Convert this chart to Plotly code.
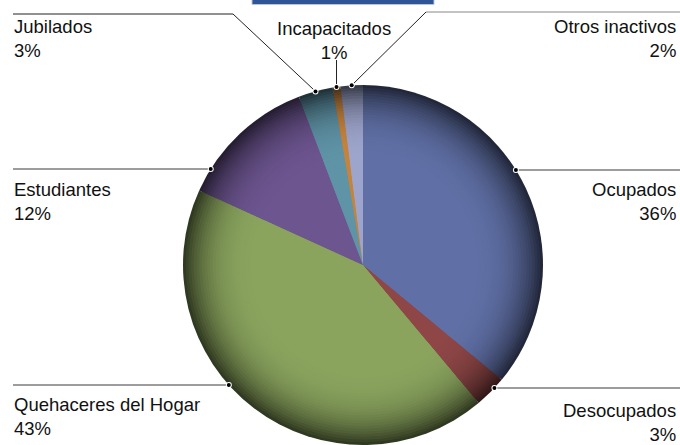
import numpy as np
import plotly.graph_objects as go

# ---------------- data ----------------
categories = ["Ocupados", "Desocupados", "Quehaceres del Hogar", "Estudiantes",
              "Jubilados", "Incapacitados", "Otros inactivos"]
values = [36.0, 2.9, 42.9, 12.4, 3.1, 0.7, 2.0]
pct_labels = ["36%", "3%", "43%", "12%", "3%", "1%", "2%"]
center_colors = ["#6070a6", "#8e4646", "#8aa45e", "#6d5590", "#5f93a6", "#c5843e", "#9ea5cc"]

# ---------------- layout constants ----------------
W, H = 680, 445
CX, CY, R = 363, 265, 180          # pie centre / radius in pixels (y from top)
FONT = "Liberation Sans, Arial, sans-serif"

def hex2rgb(h):
    h = h.lstrip("#")
    return np.array([int(h[i:i + 2], 16) for i in (0, 2, 4)], dtype=float)

def mix(c, t):
    base = hex2rgb(c)
    dark = base * 0.35
    v = base * (1 - t) + dark * t
    return "rgb(%d,%d,%d)" % tuple(np.clip(v, 0, 255).round())

def px(x):
    return x / W

def py(y):
    return 1 - y / H

fig = go.Figure()

# gradient: stacked pies from rim (dark) to inner (light)
N = 30
rmin = 0.55
for k in range(N + 1):
    frac = 1 - k * (1 - rmin) / N
    r = R * frac
    t = ((frac - rmin) / (1 - rmin)) ** 3.0
    cols = [mix(c, t) for c in center_colors]
    fig.add_trace(go.Pie(
        labels=categories, values=values, sort=False, direction="clockwise",
        rotation=0, textinfo="none", hoverinfo="label+percent",
        marker=dict(colors=cols, line=dict(width=0)),
        domain=dict(x=[px(CX - r), px(CX + r)], y=[py(CY + r), py(CY - r)]),
        showlegend=False,
    ))

# slice mid angles (clockwise from 12 o'clock), computed from data
vals = np.array(values)
cum = np.cumsum(vals) / vals.sum()
start = np.concatenate([[0], cum[:-1]])
mid = (start + cum) / 2 * 2 * np.pi

def rim_at_angle(a):
    return CX + R * np.sin(a), CY - R * np.cos(a)

def rim_at_y(y, side):
    dx = np.sqrt(max(R ** 2 - (y - CY) ** 2, 0))
    return CX + side * dx, y

# label placement (pixels): text anchor x, y-mid, align, leader path
labels_layout = {
    "Ocupados":             dict(x=678, y=202, align="right", line_y=170, side=1),
    "Desocupados":          dict(x=678, y=422, align="right", line_y=388, side=1),
    "Quehaceres del Hogar": dict(x=12, y=416, align="left", line_y=385, side=-1),
    "Estudiantes":          dict(x=12, y=201, align="left", line_y=169, side=-1),
    "Jubilados":            dict(x=12, y=38, align="left"),
    "Incapacitados":        dict(x=334, y=41, align="center"),
    "Otros inactivos":      dict(x=678, y=38, align="right"),
}

shapes = []

def seg(x0, y0, x1, y1, color="#3a3a3a"):
    shapes.append(dict(type="line", xref="paper", yref="paper",
                       x0=px(x0), y0=py(y0), x1=px(x1), y1=py(y1),
                       line=dict(color=color, width=1), layer="above"))

anchors = []
for i, cat in enumerate(categories):
    L = labels_layout[cat]
    if "line_y" in L:
        ax, ay = rim_at_y(L["line_y"], L["side"])
        end_x = W if L["side"] > 0 else 13
        seg(ax, ay, end_x, ay)
    else:
        ax, ay = rim_at_angle(mid[i])
        if cat == "Jubilados":
            seg(13, 14, 233, 14, "#222222")
            seg(233, 14, ax, ay, "#222222")
        elif cat == "Incapacitados":
            seg(ax, 60, ax, ay, "#222222")
        else:
            seg(ax, ay, 426, 12, "#222222")
            seg(426, 12, W, 12, "#888888")
    anchors.append((ax, ay))

for ax, ay in anchors:
    shapes.append(dict(type="circle", xref="paper", yref="paper",
                       x0=px(ax - 3), x1=px(ax + 3), y0=py(ay + 3), y1=py(ay - 3),
                       fillcolor="white", line=dict(width=0), layer="above"))
    shapes.append(dict(type="circle", xref="paper", yref="paper",
                       x0=px(ax - 2), x1=px(ax + 2), y0=py(ay + 2), y1=py(ay - 2),
                       fillcolor="black", line=dict(width=0), layer="above"))

# cut-off title box at top
shapes.append(dict(type="rect", xref="paper", yref="paper",
                   x0=px(252), x1=px(434), y0=py(4.5), y1=1.02,
                   fillcolor="#2f5597", line=dict(color="#b8c4dc", width=1), layer="above"))

annotations = []
for i, cat in enumerate(categories):
    L = labels_layout[cat]
    annotations.append(dict(
        x=px(L["x"]), y=py(L["y"]), xref="paper", yref="paper",
        text=f"{cat}<br>{pct_labels[i]}", showarrow=False,
        xanchor=L["align"], yanchor="middle", align=L["align"],
        font=dict(family=FONT, size=18.5, color="#111111"),
    ))

fig.update_layout(
    width=W, height=H,
    margin=dict(l=0, r=0, t=0, b=0),
    paper_bgcolor="white", plot_bgcolor="white",
    shapes=shapes, annotations=annotations,
    showlegend=False,
)

fig.write_html("out.html", config={"displayModeBar": False},
               post_script="document.body.style.margin='0';document.body.style.overflow='hidden';")
